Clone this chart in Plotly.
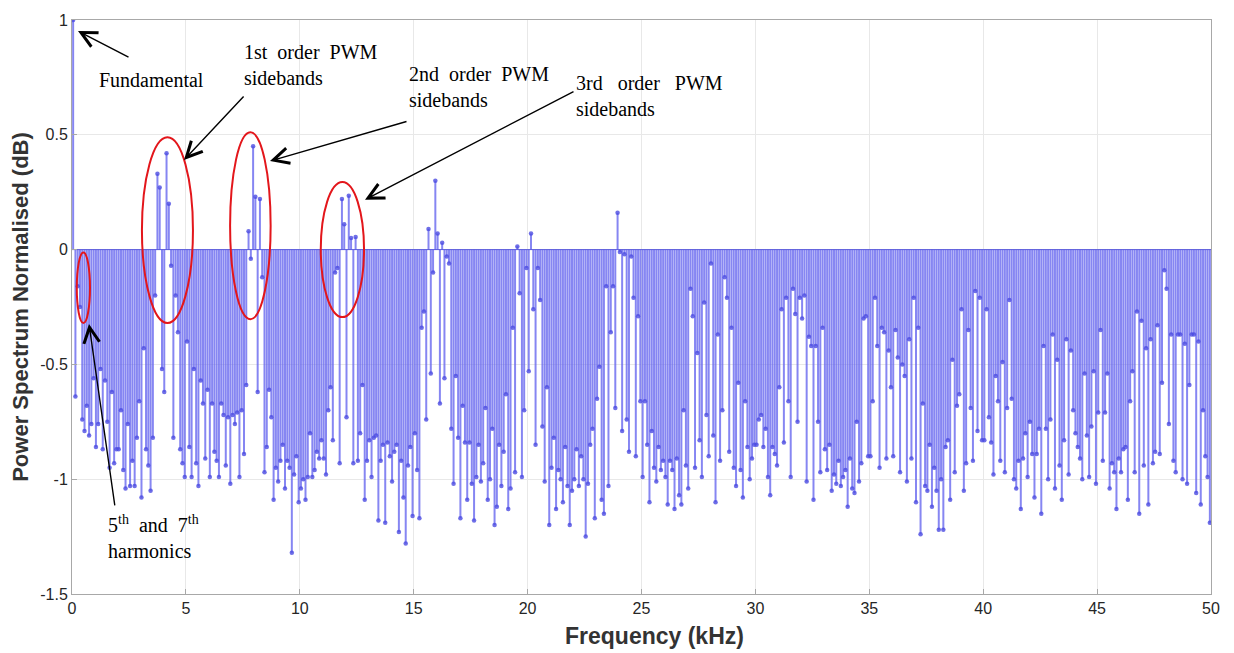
import plotly.graph_objects as go

# Odd harmonics of 50 Hz (kHz); values read per 5 kHz band
seg0 = [1.0, -0.64, -0.16, -0.25, -0.74, -0.79, -0.68, -0.81, -0.76, -0.56,
        -0.86, -0.76, -0.52, -0.87, -0.57, -0.75, -0.95, -0.62, -0.93, -0.87,
        -0.87, -0.70, -0.96, -1.04, -0.76, -1.03, -0.92, -1.03, -0.82, -0.66,
        -1.08, -0.43, -0.87, -0.94, -1.05, -0.82, -0.20, 0.33, 0.27, -0.52,
        -0.62, 0.42, 0.20, -0.07, -0.82, -0.20, -0.36, -0.87, -0.93, -0.99]
seg1 = [-0.40, -0.86, -0.99, -0.52, -0.93, -1.03, -0.57, -0.67, -0.91, -0.61,
        -0.99, -0.67, -0.88, -0.92, -0.99, -0.67, -0.72, -0.94, -0.73, -1.02,
        -0.72, -0.76, -0.71, -0.99, -0.70, -0.89, -0.59, 0.08, -0.04, 0.45,
        0.23, -0.62, 0.22, -0.12, -0.97, -0.86, -0.61, -0.73, -1.09, -0.95,
        -1.01, -0.92, -0.85, -1.04, -0.92, -0.95, -1.32, -0.98, -0.90, -1.10]
seg2 = [-1.04, -1.00, -1.09, -0.99, -0.80, -0.99, -0.96, -0.88, -0.91, -0.83,
        -0.91, -0.98, -0.70, -0.60, -0.83, -0.10, -0.08, -0.93, 0.22, 0.11,
        -0.73, 0.235, 0.05, -0.93, 0.055, -0.92, -0.80, -0.59, -1.09, -0.92,
        -0.83, -0.99, -0.82, -0.81, -1.18, -0.92, -0.85, -1.19, -0.84, -0.90,
        -1.01, -0.88, -0.85, -1.23, -0.92, -1.08, -1.28, -0.94, -0.86, -1.16]
seg3 = [-0.80, -0.96, -1.17, -0.34, -0.27, -0.74, 0.09, -0.54, -0.10, 0.30,
        0.07, -0.67, 0.03, -0.56, -0.03, -0.06, -0.78, -1.02, -0.55, -0.82,
        -1.17, -0.68, -0.84, -1.09, -0.84, -1.02, -1.18, -0.99, -0.85, -1.01,
        -0.93, -0.69, -1.09, -1.00, -0.78, -1.20, -1.12, -0.85, -1.03, -0.88,
        -0.63, -1.13, -1.04, -0.34, -0.97, 0.014, -0.19, -0.99, -0.70, -0.08]
seg4 = [-0.53, 0.07, -0.26, -0.85, -0.08, -0.22, -0.77, -1.01, -0.60, -1.20,
        -0.95, -0.82, -1.13, -0.96, -1.00, -1.10, -0.86, -1.03, -1.20, -1.05,
        -1.00, -0.87, -1.03, -0.90, -1.00, -1.25, -1.02, -0.85, -0.78, -1.17,
        -0.65, -0.51, -1.09, -1.15, -0.16, -1.03, -0.36, -0.16, -0.69, 0.16,
        -0.01, -0.79, -0.02, -0.74, -0.88, -0.03, -0.21, -0.90, -0.29, -0.66]
seg5 = [-0.99, -0.66, -0.85, -1.10, -0.79, -0.95, -1.01, -0.86, -0.96, -0.92,
        -0.99, -1.11, -0.92, -0.96, -1.13, -0.91, -1.07, -1.11, -0.70, -0.94,
        -1.04, -0.17, -0.29, -0.95, -0.45, -0.83, -0.99, -0.23, -0.72, -0.90,
        -0.06, -0.81, -1.10, -0.37, -0.92, -0.70, -0.12, -0.21, -0.88, -0.34,
        -0.95, -1.03, -0.58, -0.96, -1.08, -0.66, -0.86, -1.00, -0.91, -0.85]
seg6 = [-0.85, -0.74, -0.72, -0.86, -0.78, -0.99, -1.07, -0.86, -0.89, -0.94,
        -0.60, -0.26, -0.84, -0.21, -0.66, -0.99, -0.17, -0.28, -0.75, -0.21,
        -0.30, -0.20, -1.01, -0.38, -0.42, -1.09, -0.42, -0.75, -0.97, -0.34,
        -0.87, -0.96, -0.85, -1.05, -0.98, -1.02, -0.92, -1.03, -0.99, -0.96,
        -1.12, -0.91, -1.04, -1.06, -0.75, -1.01, -0.93, -0.30, -0.29, -0.90]
seg7 = [-0.90, -0.66, -0.21, -0.42, -0.95, -0.34, -0.36, -0.91, -0.44, -0.60,
        -0.90, -0.35, -0.47, -0.97, -0.50, -0.55, -1.01, -0.39, -0.91, -0.21,
        -1.10, -0.34, -1.24, -0.67, -1.03, -1.05, -0.85, -1.12, -0.95, -1.05,
        -1.22, -1.00, -1.22, -0.86, -0.83, -1.09, -0.48, -0.97, -0.68, -0.63,
        -0.26, -1.05, -0.93, -0.35, -0.69, -0.92, -0.18, -0.79, -0.21, -0.83]
seg8 = [-0.83, -0.26, -0.73, -0.84, -0.98, -0.55, -0.66, -0.92, -0.49, -0.97,
        -0.69, -0.22, -0.65, -1.00, -1.04, -0.92, -1.13, -0.91, -0.80, -0.99,
        -0.75, -0.89, -1.08, -0.89, -0.78, -1.15, -0.42, -0.78, -1.00, -0.74,
        -0.37, -1.04, -0.48, -0.94, -1.09, -0.83, -0.39, -0.98, -0.44, -0.70,
        -0.80, -0.86, -0.91, -1.00, -0.54, -0.81, -0.99, -0.77, -0.53, -1.02]
seg9 = [-0.71, -0.35, -0.92, -0.71, -0.54, -1.04, -0.93, -0.97, -1.13, -0.91,
        -0.97, -0.87, -0.86, -1.09, -0.66, -0.53, -0.97, -0.27, -1.15, -0.31,
        -0.94, -0.43, -1.11, -0.39, -0.93, -0.88, -0.33, -0.89, -0.58, -0.09,
        -0.17, -0.76, -0.37, -0.92, -0.97, -0.37, -0.37, -1.00, -0.41, -1.02,
        -0.59, -0.37, -0.37, -1.06, -0.40, -1.11, -0.70, -0.90, -0.99, -1.19]

values = seg0 + seg1 + seg2 + seg3 + seg4 + seg5 + seg6 + seg7 + seg8 + seg9
freqs = [0.05 + 0.1 * k for k in range(len(values))]

x_ticks = [0, 5, 10, 15, 20, 25, 30, 35, 40, 45, 50]
y_ticks = [-1.5, -1, -0.5, 0, 0.5, 1]
y_tick_labels = ["-1.5", "-1", "-0.5", "0", "0.5", "1"]

stem_x, stem_y = [], []
for f, v in zip(freqs, values):
    stem_x += [f, f, None]
    stem_y += [0, v, None]

fig = go.Figure()
fig.add_trace(go.Scatter(x=stem_x, y=stem_y, mode="lines",
                         line=dict(color="rgba(100,100,238,0.78)", width=2.0),
                         hoverinfo="skip", showlegend=False))
fig.add_trace(go.Scatter(x=[0, 50], y=[0, 0], mode="lines",
                         line=dict(color="rgba(80,80,220,0.9)", width=1),
                         hoverinfo="skip", showlegend=False))
fig.add_trace(go.Scatter(x=freqs, y=values, mode="markers",
                         marker=dict(size=4.5, color="rgba(75,75,225,0.8)", line=dict(width=0)),
                         showlegend=False))

# red ellipses
ellipses = [
    (0.21, 0.79, -0.013, -0.32),
    (3.07, 5.31, 0.489, -0.32),
    (6.94, 8.72, 0.511, -0.303),
    (10.92, 12.82, 0.294, -0.294),
]
for x0, x1, y0, y1 in ellipses:
    fig.add_shape(type="circle", xref="x", yref="y", x0=x0, x1=x1, y0=y1, y1=y0,
                  line=dict(color="#e3161b", width=2))

serif = dict(family="Liberation Serif, Times New Roman, serif", size=20, color="black")

def px2x(px):
    return (px - 72) / 22.78

def py2y(py):
    return (247.2 - py) / 231.2

sp2 = "\u00a0 "
sp3 = "\u00a0\u00a0 "
texts = [
    (97, 76, "Fundamental"),
    (242, 61, "1st" + sp2 + "order" + sp2 + "PWM<br>sidebands"),
    (407, 83, "2nd" + sp2 + "order" + sp2 + "PWM<br>sidebands"),
    (574, 93, "3rd" + sp3 + "order" + sp3 + "PWM<br>sidebands"),
    (106, 537, "5<sup>th</sup>" + sp2 + "and" + sp2 + "7<sup>th</sup><br>harmonics"),
]
for px, py, t in texts:
    fig.add_annotation(x=px2x(px), y=py2y(py), xref="x", yref="y", text=t,
                       showarrow=False, xanchor="left", yanchor="middle",
                       align="left", font=serif)

arrows = [
    (78, 27, 130, 54),
    (184, 157, 245, 92),
    (270, 158, 408, 118),
    (365, 197, 575, 88),
    (89, 322, 115, 505),
]
for hx, hy, tx, ty in arrows:
    fig.add_annotation(x=px2x(hx), y=py2y(hy), xref="x", yref="y", text="",
                       showarrow=True, ax=tx - hx, ay=ty - hy,
                       arrowhead=5, arrowsize=2.2, arrowwidth=1.4,
                       arrowcolor="black", standoff=0)

# x-axis title (slightly right of centre, as in the reference)
fig.add_annotation(x=(654 - 72) / 1139, y=-42 / 578, xref="paper", yref="paper",
                   text="<b>Frequency (kHz)</b>", showarrow=False,
                   xanchor="center", yanchor="middle",
                   font=dict(family="Liberation Sans, Arial, sans-serif", size=23, color="#333333"))

axis_font = dict(family="Liberation Sans, Arial, sans-serif", size=16, color="#262626")
fig.update_xaxes(range=[0, 50], tickvals=x_ticks, showgrid=True, gridcolor="#e8e8e8",
                 gridwidth=1, zeroline=False, showline=True, linecolor="#a8a8a8",
                 mirror=True, ticks="inside", ticklen=5, tickcolor="#a8a8a8",
                 tickfont=axis_font)
fig.update_yaxes(range=[-1.5, 1], tickvals=y_ticks, ticktext=y_tick_labels,
                 showgrid=True, gridcolor="#e8e8e8", gridwidth=1, zeroline=False,
                 showline=True, linecolor="#a8a8a8", mirror=True, ticks="inside",
                 ticklen=5, tickcolor="#a8a8a8", tickfont=axis_font,
                 title=dict(text="<b>Power Spectrum Normalised (dB)</b>", standoff=5,
                            font=dict(family="Liberation Sans, Arial, sans-serif", size=22, color="#333333")))

fig.update_layout(width=1234, height=653, paper_bgcolor="white", plot_bgcolor="white",
                  margin=dict(l=72, r=23, t=16, b=59), showlegend=False)

fig.write_html("out.html")
